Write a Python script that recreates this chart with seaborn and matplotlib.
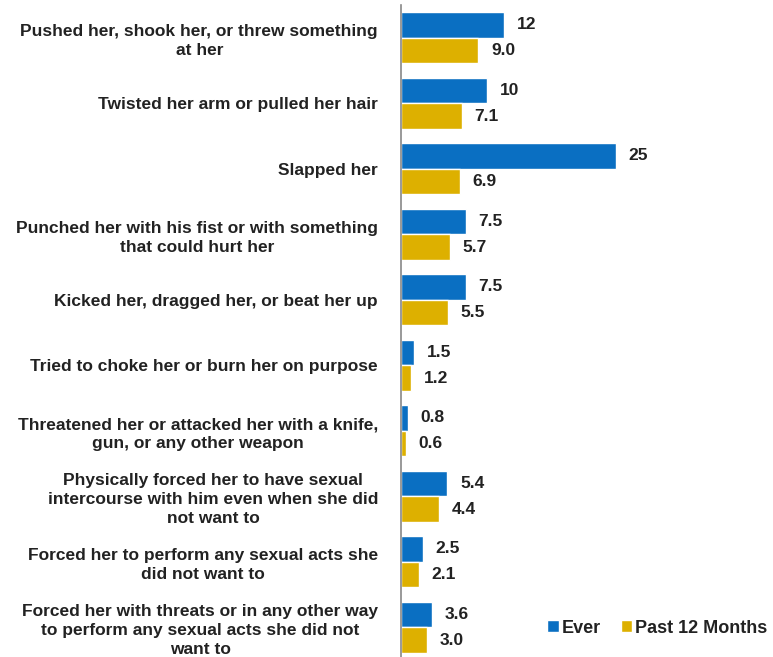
import matplotlib
matplotlib.use("Agg")
import matplotlib.pyplot as plt
import seaborn as sns
import pandas as pd

categories = [
    "Pushed her, shook her, or threw something\nat her",
    "Twisted her arm or pulled her hair",
    "Slapped her",
    "Punched her with his fist or with something\nthat could hurt her",
    "Kicked her, dragged her, or beat her up",
    "Tried to choke her or burn her on purpose",
    "Threatened her or attacked her with a knife,\ngun, or any other weapon",
    "Physically forced her to have sexual\nintercourse with him even when she did\nnot want to",
    "Forced her to perform any sexual acts she\ndid not want to",
    "Forced her with threats or in any other way\nto perform any sexual acts she did not\nwant to",
]
ever = [12, 10, 25, 7.5, 7.5, 1.5, 0.8, 5.4, 2.5, 3.6]
past12 = [9.0, 7.1, 6.9, 5.7, 5.5, 1.2, 0.6, 4.4, 2.1, 3.0]
ever_labels = ["12", "10", "25", "7.5", "7.5", "1.5", "0.8", "5.4", "2.5", "3.6"]
past_labels = ["9.0", "7.1", "6.9", "5.7", "5.5", "1.2", "0.6", "4.4", "2.1", "3.0"]
series_names = ["Ever", "Past 12 Months"]
colors = ["#0A6FC2", "#DDB000"]

rows = []
for c, e, p in zip(categories, ever, past12):
    rows.append({"cat": c, "series": series_names[0], "val": e})
    rows.append({"cat": c, "series": series_names[1], "val": p})
df = pd.DataFrame(rows)

sns.set_style("white")
plt.rcParams['font.family'] = ['Liberation Sans', 'DejaVu Sans']

fig = plt.figure(figsize=(7.73, 6.57), dpi=100)
ax = fig.add_axes([401/773, -3/657, 1 - 401/773, 655/657])

sns.barplot(data=df, y="cat", x="val", hue="series", order=categories,
            hue_order=series_names, palette=colors, orient="h",
            width=0.78, saturation=1, ax=ax, errorbar=None)

for cont, labs in zip(ax.containers, [ever_labels, past_labels]):
    ax.bar_label(cont, labels=labs, padding=9, fontsize=12.5, fontweight="bold",
                 color="#222222")

ax.set_xlim(0, (773 - 401) / 8.6)
ax.set_ylim(9.5, -0.5)
ax.set_xlabel("")
ax.set_ylabel("")
ax.set_xticks([])
for s in ["top", "right", "bottom"]:
    ax.spines[s].set_visible(False)
ax.spines["left"].set_color("#888888")
ax.spines["left"].set_linewidth(1.2)

ax.tick_params(axis="y", length=0, pad=16.5)
for t in ax.get_yticklabels():
    t.set_fontsize(12.5)
    t.set_fontweight("bold")
    t.set_color("#222222")
    t.set_multialignment("center")
    t.set_linespacing(1.33)

leg = ax.legend(loc="lower right", bbox_to_anchor=(1.014, 0.019), ncol=2, frameon=False,
                handlelength=0.65, handleheight=0.65, handletextpad=0.15,
                columnspacing=1.1, borderaxespad=0.2,
                prop={"size": 13, "weight": "bold"})
for t in leg.get_texts():
    t.set_color("#222222")

fig.savefig("out.png", dpi=100)
